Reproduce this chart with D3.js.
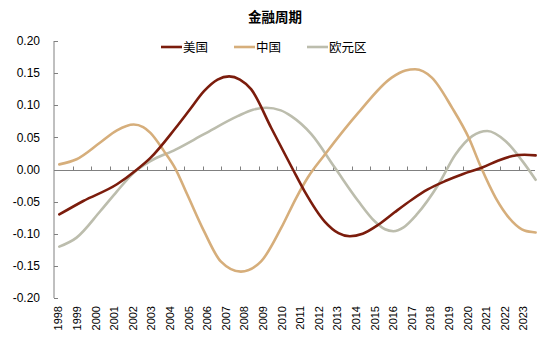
<!DOCTYPE html>
<html><head><meta charset="utf-8">
<script src="https://cdn.jsdelivr.net/npm/d3@7"></script>
<style>body{margin:0;background:#fff}svg{display:block}</style>
</head><body>
<script>
const title = "金融周期";
const seriesNames = ["美国", "中国", "欧元区"];
const colors = ["#7B1C0C", "#D6AE7B", "#BCBDAD"];
const years = d3.range(1998, 2024).map(String);
const yTicks = [0.20, 0.15, 0.10, 0.05, 0.00, -0.05, -0.10, -0.15, -0.20];

const usT = [1998.29, 1999.58, 2001.39, 2002.47, 2003.19, 2004.5, 2005.3, 2006.07, 2006.8, 2007.42, 2008.0, 2008.6, 2009.68, 2010.85, 2011.48, 2012.56, 2013.3, 2013.91, 2014.6, 2015.44, 2016.3, 2017.24, 2018.1, 2019.04, 2020.0, 2021.03, 2021.9, 2022.65, 2023.3, 2023.9];
const usV = [-0.070, -0.049, -0.023, 0.000, 0.018, 0.063, 0.093, 0.122, 0.140, 0.145, 0.140, 0.125, 0.065, 0.000, -0.034, -0.081, -0.099, -0.104, -0.100, -0.086, -0.067, -0.047, -0.031, -0.018, -0.007, 0.003, 0.014, 0.021, 0.023, 0.022];

const cnT = [1998.29, 1999.22, 2000.49, 2001.39, 2002.29, 2002.8, 2003.19, 2003.91, 2004.5, 2005.17, 2006.07, 2006.97, 2008.05, 2009.14, 2010.22, 2011.03, 2011.66, 2012.56, 2014.36, 2016.16, 2016.9, 2017.42, 2018.32, 2019.41, 2020.31, 2020.94, 2021.75, 2022.65, 2023.3, 2023.9];
const cnV = [0.008, 0.016, 0.042, 0.061, 0.070, 0.066, 0.057, 0.029, 0.003, -0.039, -0.096, -0.143, -0.159, -0.143, -0.091, -0.044, -0.012, 0.023, 0.088, 0.143, 0.154, 0.156, 0.143, 0.096, 0.049, 0.005, -0.044, -0.081, -0.095, -0.098];

const euT = [1998.29, 1999.22, 2000.49, 2001.39, 2002.29, 2003.19, 2004.54, 2006.07, 2007.88, 2008.7, 2009.41, 2010.2, 2010.76, 2011.84, 2013.1, 2014.36, 2015.26, 2015.8, 2016.25, 2016.8, 2017.51, 2018.68, 2019.58, 2020.49, 2021.3, 2022.29, 2023.19, 2023.9];
const euV = [-0.120, -0.106, -0.065, -0.034, -0.005, 0.013, 0.031, 0.055, 0.083, 0.093, 0.096, 0.092, 0.083, 0.055, 0.003, -0.049, -0.081, -0.093, -0.096, -0.090, -0.070, -0.023, 0.023, 0.052, 0.060, 0.044, 0.013, -0.016];

const W = 550, H = 348;
const svg = d3.select("body").append("svg").attr("width", W).attr("height", H)
  .style("font-family", "'Liberation Sans', Arial, sans-serif");

const x = d3.scaleLinear().domain([1998, 2024]).range([53.9, 537.5]);
const y = d3.scaleLinear().domain([-0.2, 0.2]).range([298, 41]);

svg.append("text").attr("x", 275).attr("y", 22).attr("text-anchor", "middle")
  .attr("font-size", 13.5).attr("font-weight", "bold").attr("fill", "#000")
  .style("font-family", "'Noto Sans CJK SC', sans-serif").text(title);

// y axis
const axisColor = "#808080";
svg.append("line").attr("x1", 54).attr("x2", 54).attr("y1", y(0.2)).attr("y2", y(-0.2))
  .attr("stroke", axisColor).attr("stroke-width", 1);
yTicks.forEach(v => {
  svg.append("line").attr("x1", 54).attr("x2", 58).attr("y1", Math.round(y(v)) + 0.5).attr("y2", Math.round(y(v)) + 0.5)
    .attr("stroke", axisColor);
  svg.append("text").attr("x", 40).attr("y", y(v)).attr("dy", "0.35em").attr("text-anchor", "end")
    .attr("font-size", 12).attr("fill", "#000").text(v.toFixed(2));
});

// x axis at zero
const y0 = Math.round(y(0)) + 0.5;
svg.append("line").attr("x1", 54).attr("x2", 535).attr("y1", y0).attr("y2", y0)
  .attr("stroke", axisColor).attr("stroke-width", 1);
d3.range(1999, 2024).forEach(t => {
  const xx = Math.round(x(t)) + 0.5;
  svg.append("line").attr("x1", xx).attr("x2", xx).attr("y1", y0 - 4).attr("y2", y0).attr("stroke", axisColor);
});
years.forEach(yr => {
  svg.append("text").attr("transform", `translate(${x(+yr + 0.24) + 4},306) rotate(-90)`)
    .attr("text-anchor", "end").attr("font-size", 11).attr("fill", "#000").text(yr);
});

// lines
const line = d3.line().x(d => x(d[0])).y(d => y(d[1])).curve(d3.curveMonotoneX);
const data = [d3.zip(usT, usV), d3.zip(cnT, cnV), d3.zip(euT, euV)];
[2, 1, 0].forEach(i => {
  svg.append("path").attr("d", line(data[i])).attr("fill", "none")
    .attr("stroke", colors[i]).attr("stroke-width", 2.6).attr("stroke-linecap", "round");
});

// legend
const legX = [161, 234, 307];
seriesNames.forEach((n, i) => {
  svg.append("line").attr("x1", legX[i]).attr("x2", legX[i] + 21).attr("y1", 47).attr("y2", 47)
    .attr("stroke", colors[i]).attr("stroke-width", 2.6);
  svg.append("text").attr("x", legX[i] + 22).attr("y", 47).attr("dy", "0.36em")
    .attr("font-size", 12.5).attr("fill", "#000")
    .style("font-family", "'Noto Sans CJK SC', sans-serif").text(n);
});
</script>
</body></html>
